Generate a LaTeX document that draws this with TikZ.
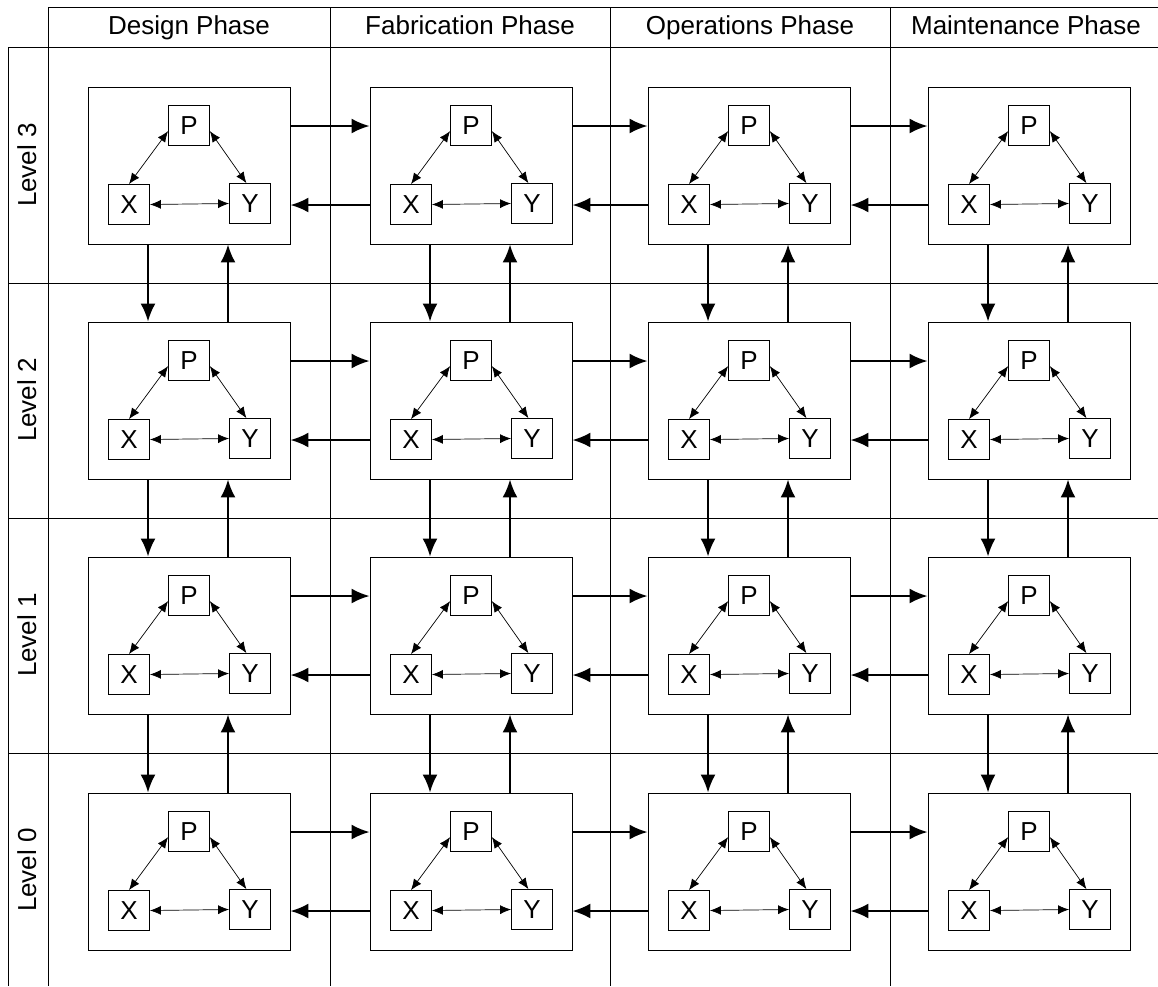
\documentclass[tikz,border=0pt]{standalone}
\usepackage{fontspec}
\setmainfont{Liberation Sans}
\usetikzlibrary{arrows.meta}
\begin{document}
\begin{tikzpicture}[x=1pt,y=-1pt,
  grid/.style={line width=0.9pt},
  cellbox/.style={draw, line width=0.9pt, minimum width=202pt, minimum height=157pt, inner sep=0pt},
  varbox/.style={draw, line width=0.8pt, minimum width=41pt, minimum height=40pt, inner sep=0pt, font=\fontsize{26}{30}\selectfont},
  inner/.style={line width=0.7pt, {Latex[length=11pt,width=9pt]}-{Latex[length=11pt,width=9pt]}},
  flow/.style={line width=2.1pt, -{Latex[length=18pt,width=15pt]}},
  head/.style={font=\fontsize{26}{31}\selectfont, inner sep=0pt, text height=19pt, text depth=5pt},
]
\useasboundingbox[fill=white] (0,0) rectangle (1158,986);
% grid
\draw[grid] (48,7) -- (1158,7);
\draw[grid] (8,47) -- (1158,47);
\foreach \yy in {283,518,753} {\draw[grid] (8,\yy) -- (1158,\yy);}
\draw[grid] (8,47) -- (8,986);
\draw[grid] (48,7) -- (48,986);
\foreach \xx in {330,610,890} {\draw[grid] (\xx,7) -- (\xx,986);}
% headers
\node[head] (h0) at (189,27) {Design Phase};
\node[head] (h1) at (470,27) {Fabrication Phase};
\node[head] (h2) at (750,27) {Operations Phase};
\node[head] (h3) at (1026,27) {Maintenance Phase};
% level labels
\foreach \r/\ry in {3/165,2/400,1/635,0/870} {
  \node[head, rotate=90] (L\r) at (29,\ry) {Level \r};
}
% cells
\foreach \c/\cx in {0/189,1/471,2/749,3/1029} {
  \foreach \r/\ry in {3/165.5,2/400.5,1/635.5,0/871.5} {
    \node[cellbox] (B\r\c) at (\cx,\ry) {};
    \node[varbox] (P\r\c) at (\cx,\ry-40) {P};
    \node[varbox] (X\r\c) at (\cx-60,\ry+39) {X};
    \node[varbox] (Y\r\c) at (\cx+61,\ry+38) {Y};
    \draw[inner] (P\r\c.195) -- (X\r\c.north);
    \draw[inner] (P\r\c.345) -- (Y\r\c.100);
    \draw[inner] (X\r\c.east) -- (Y\r\c.west);
  }
}
% horizontal flows
\foreach \c in {0,1,2} {
  \pgfmathtruncatemacro\cn{\c+1}
  \foreach \r in {0,1,2,3} {
    \draw[flow] ([yshift=39.5pt]B\r\c.east) -- ([yshift=39.5pt]B\r\cn.west);
    \draw[flow] ([yshift=-39.5pt]B\r\cn.west) -- ([yshift=-39.5pt]B\r\c.east);
  }
}
% vertical flows
\foreach \c in {0,1,2,3} {
  \foreach \r in {3,2,1} {
    \pgfmathtruncatemacro\rn{\r-1}
    \draw[flow] ([xshift=-41pt]B\r\c.south) -- ([xshift=-41pt]B\rn\c.north);
    \draw[flow] ([xshift=39pt]B\rn\c.north) -- ([xshift=39pt]B\r\c.south);
  }
}
\end{tikzpicture}
\end{document}
